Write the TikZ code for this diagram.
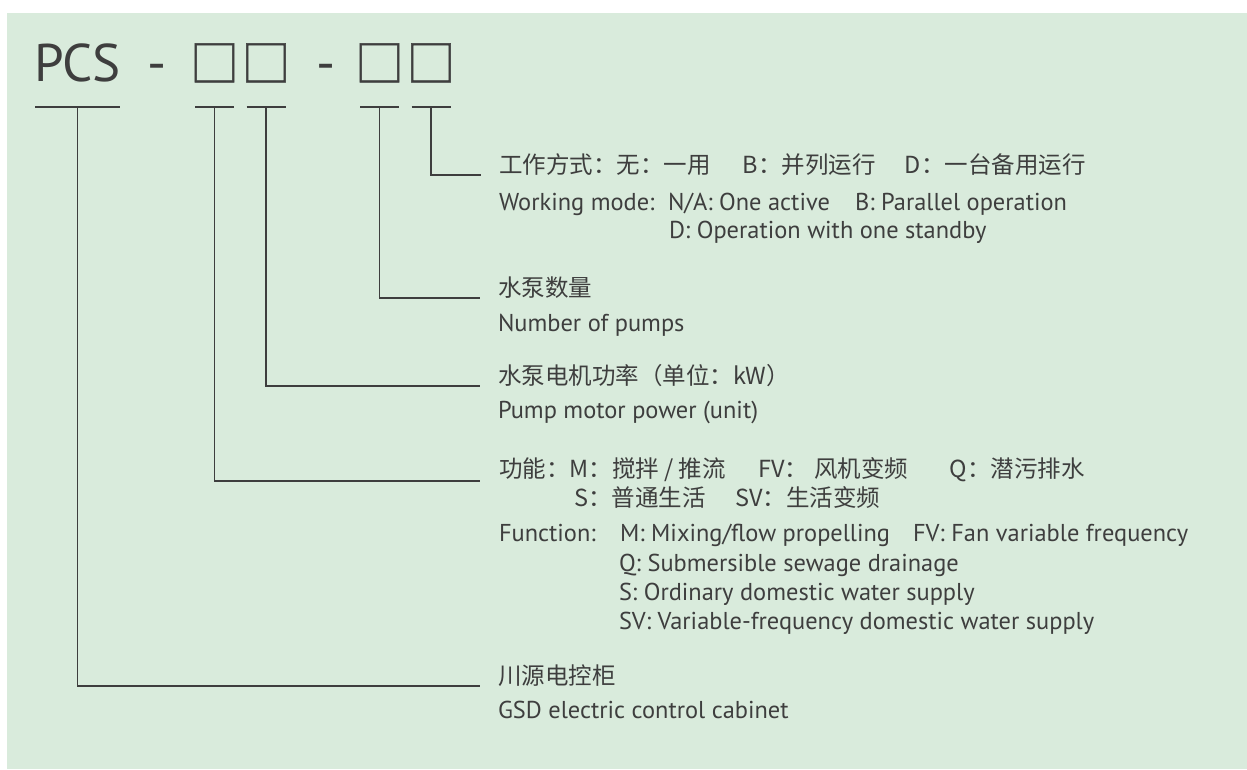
\documentclass[tikz,border=0pt]{standalone}
\usepackage{fontspec}
\setmainfont{PT Sans}
\newfontfamily\zh{Noto Sans CJK SC}
\newfontfamily\zhslot[FakeBold=1]{Noto Sans CJK SC}
\definecolor{bggreen}{RGB}{217,235,220}
\definecolor{ink}{RGB}{62,62,62}
\begin{document}
\begin{tikzpicture}[x=1pt,y=-1pt,
   every node/.style={inner sep=0pt,outer sep=0pt,text=ink},
   cn/.style={anchor=base west,font=\zh\fontsize{23.5}{28}\selectfont},
   en/.style={anchor=base west,font=\fontsize{24.4}{28}\selectfont},
   big/.style={anchor=base west,font=\fontsize{53}{60}\selectfont},
   slot/.style={anchor=base,font=\zhslot\fontsize{49}{52}\selectfont},
   lead/.style={draw=ink,line width=1.8pt}]
\useasboundingbox (0,0) rectangle (1247,769);
\fill [bggreen] (7,13) rectangle (1247,769);
% code line
\node [big] (pcs) at (34,81) {PCS};
\node [big] (dashA) at (147,81) {-};
\node [slot] (boxA) at (214.5,81.5) {□};
\node [slot] (boxB) at (266,81.5) {□};
\node [big] (dashB) at (316,81) {-};
\node [slot] (boxC) at (379.5,81.5) {□};
\node [slot] (boxD) at (431,81.5) {□};
% texts
\node [cn] (mode) at (499,173) {\makebox[244pt][l]{工作方式：无：一用}\makebox[162pt][l]{B：并列运行}D：一台备用运行};
\node [en] (modeEn) at (499,210) {\makebox[169pt][l]{Working mode:}\makebox[187pt][l]{N/A: One active}B: Parallel operation};
\node [en] (modeD) at (669,238) {D: Operation with one standby};
\node [cn] (num) at (498,296) {水泵数量};
\node [en] (numEn) at (498,331) {Number of pumps};
\node [cn] (pow) at (498,384) {水泵电机功率（单位：kW）};
\node [en] (powEn) at (498,418) {Pump motor power (unit)};
\node [cn] (func) at (499,477) {\makebox[259pt][l]{功能：M：搅拌 / 推流}\makebox[192pt][l]{FV：\hspace{6pt}风机变频}Q：潜污排水};
\node [cn] (funcS) at (574,506) {\makebox[161pt][l]{S：普通生活}SV：生活变频};
\node [en] (funcEn) at (499,541) {\makebox[121pt][l]{Function:}\makebox[293pt][l]{M: Mixing/flow propelling}FV: Fan variable frequency};
\node [en] (funcQ) at (619,571) {Q: Submersible sewage drainage};
\node [en] (funcO) at (619,600) {S: Ordinary domestic water supply};
\node [en] (funcV) at (619,629) {SV: Variable-frequency domestic water supply};
\node [cn] (cab) at (498,684) {川源电控柜};
\node [en] (cabEn) at (498,718) {GSD electric control cabinet};
% brackets under the code
\draw [lead] ([xshift=1pt]pcs.west |- 0,107) -- ([xshift=-1pt]pcs.east |- 0,107);
\draw [lead] ([xshift=-19.5pt]boxA.center |- 0,107) -- ([xshift=19.5pt]boxA.center |- 0,107);
\draw [lead] ([xshift=-19.5pt]boxB.center |- 0,107) -- ([xshift=19.5pt]boxB.center |- 0,107);
\draw [lead] ([xshift=-19.5pt]boxC.center |- 0,107) -- ([xshift=19.5pt]boxC.center |- 0,107);
\draw [lead] ([xshift=-19.5pt]boxD.center |- 0,107) -- ([xshift=19.5pt]boxD.center |- 0,107);
% leaders
\draw [lead] (boxD.center |- 0,107) |- ([xshift=-18pt]mode.south west);
\draw [lead] (boxC.center |- 0,107) |- ([xshift=-18pt]num.south west);
\draw [lead] (boxB.center |- 0,107) |- ([xshift=-18pt]pow.south west);
\draw [lead] (boxA.center |- 0,107) |- ([xshift=-19pt]func.south west);
\draw [lead] (pcs.center |- 0,107) |- ([xshift=-18pt]cab.south west);
\end{tikzpicture}
\end{document}
